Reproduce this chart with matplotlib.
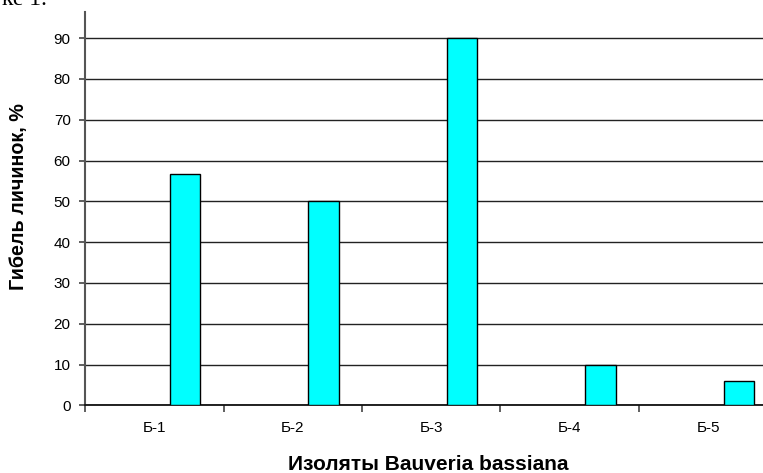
import matplotlib
matplotlib.use("Agg")
import matplotlib.pyplot as plt
import numpy as np

plt.rcParams['font.family'] = ['Liberation Sans', 'DejaVu Sans']

categories = ["Б-1", "Б-2", "Б-3", "Б-4", "Б-5"]
mortality = [56.7, 50.0, 90.0, 10.0, 6.0]
y_ticks = [0, 10, 20, 30, 40, 50, 60, 70, 80, 90]

W, H = 763, 473
fig = plt.figure(figsize=(W / 100, H / 100), dpi=100)

# plot area (pixel geometry converted to figure fractions)
left_px, bottom_px, top_px = 85, 405.3, 12
cat_px = 138.5
ax = fig.add_axes([left_px / W, (H - bottom_px) / H,
                   5 * cat_px / W, (bottom_px - top_px) / H])

x = np.arange(len(categories))
bar_w = 1 / 4.5
ax.bar(x + bar_w, mortality, width=bar_w, color="#00FFFF",
       edgecolor="black", linewidth=1.0, zorder=3)

ax.set_xlim(-0.5, 4.5)
ax.set_ylim(0, 96.4)

ax.set_yticks(y_ticks)
ax.tick_params(axis="y", direction="out", length=4.3, width=1.2,
               color="#444444", labelsize=11, pad=6)
ax.yaxis.grid(True, color="#222222", linewidth=1.0, zorder=0)
ax.set_axisbelow(True)

ax.set_xticks(x)
ax.set_xticklabels(categories, fontsize=11)
ax.tick_params(axis="x", which="major", length=0, pad=11.5)
ax.set_xticks(np.arange(-0.5, 5.0, 1.0), minor=True)
ax.tick_params(axis="x", which="minor", direction="out", length=5,
               width=1.2, color="#444444")

for s in ("top", "right"):
    ax.spines[s].set_visible(False)
ax.spines["left"].set_color("#555555")
ax.spines["left"].set_linewidth(1.5)
ax.spines["bottom"].set_color("#111111")
ax.spines["bottom"].set_linewidth(1.3)

fig.text(19 / W, 1 - 197 / H, "Гибель личинок, %", rotation=90,
         ha="center", va="center", fontsize=14.2, fontweight="bold")
fig.text(428 / W, 1 - 464 / H, "Изоляты Bauveria bassiana",
         ha="center", va="center", fontsize=15, fontweight="bold")

# tail of the sentence above the figure in the source document
fig.text(2 / W, 1 - 5 / H, "ке 1.", ha="left", va="baseline",
         fontsize=17, family=["Liberation Serif", "DejaVu Serif"])

fig.savefig("out.png", dpi=100)
